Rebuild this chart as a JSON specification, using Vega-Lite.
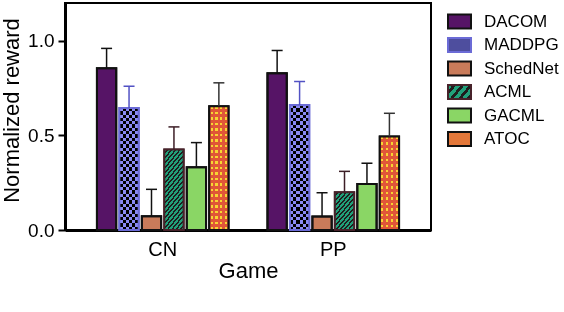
{
  "$schema": "https://vega.github.io/schema/vega-lite/v6.json",
  "autosize": {"type": "none"},
  "padding": {"left": 65, "top": 3, "right": 133, "bottom": 82},
  "width": 366,
  "height": 227,
  "background": "white",
  "params": [
    {"name": "acmlStops", "value": [
      {"offset":0,"color":"#21a07a"},{"offset":0.022917,"color":"#21a07a"},{"offset":0.022917,"color":"#1e1e1e"},{"offset":0.041667,"color":"#1e1e1e"},
      {"offset":0.041667,"color":"#21a07a"},{"offset":0.064583,"color":"#21a07a"},{"offset":0.064583,"color":"#1e1e1e"},{"offset":0.083333,"color":"#1e1e1e"},
      {"offset":0.083333,"color":"#21a07a"},{"offset":0.10625,"color":"#21a07a"},{"offset":0.10625,"color":"#1e1e1e"},{"offset":0.125,"color":"#1e1e1e"},
      {"offset":0.125,"color":"#21a07a"},{"offset":0.147917,"color":"#21a07a"},{"offset":0.147917,"color":"#1e1e1e"},{"offset":0.166667,"color":"#1e1e1e"},
      {"offset":0.166667,"color":"#21a07a"},{"offset":0.189583,"color":"#21a07a"},{"offset":0.189583,"color":"#1e1e1e"},{"offset":0.208333,"color":"#1e1e1e"},
      {"offset":0.208333,"color":"#21a07a"},{"offset":0.23125,"color":"#21a07a"},{"offset":0.23125,"color":"#1e1e1e"},{"offset":0.25,"color":"#1e1e1e"},
      {"offset":0.25,"color":"#21a07a"},{"offset":0.272917,"color":"#21a07a"},{"offset":0.272917,"color":"#1e1e1e"},{"offset":0.291667,"color":"#1e1e1e"},
      {"offset":0.291667,"color":"#21a07a"},{"offset":0.314583,"color":"#21a07a"},{"offset":0.314583,"color":"#1e1e1e"},{"offset":0.333333,"color":"#1e1e1e"},
      {"offset":0.333333,"color":"#21a07a"},{"offset":0.35625,"color":"#21a07a"},{"offset":0.35625,"color":"#1e1e1e"},{"offset":0.375,"color":"#1e1e1e"},
      {"offset":0.375,"color":"#21a07a"},{"offset":0.397917,"color":"#21a07a"},{"offset":0.397917,"color":"#1e1e1e"},{"offset":0.416667,"color":"#1e1e1e"},
      {"offset":0.416667,"color":"#21a07a"},{"offset":0.439583,"color":"#21a07a"},{"offset":0.439583,"color":"#1e1e1e"},{"offset":0.458333,"color":"#1e1e1e"},
      {"offset":0.458333,"color":"#21a07a"},{"offset":0.48125,"color":"#21a07a"},{"offset":0.48125,"color":"#1e1e1e"},{"offset":0.5,"color":"#1e1e1e"},
      {"offset":0.5,"color":"#21a07a"},{"offset":0.522917,"color":"#21a07a"},{"offset":0.522917,"color":"#1e1e1e"},{"offset":0.541667,"color":"#1e1e1e"},
      {"offset":0.541667,"color":"#21a07a"},{"offset":0.564583,"color":"#21a07a"},{"offset":0.564583,"color":"#1e1e1e"},{"offset":0.583333,"color":"#1e1e1e"},
      {"offset":0.583333,"color":"#21a07a"},{"offset":0.60625,"color":"#21a07a"},{"offset":0.60625,"color":"#1e1e1e"},{"offset":0.625,"color":"#1e1e1e"},
      {"offset":0.625,"color":"#21a07a"},{"offset":0.647917,"color":"#21a07a"},{"offset":0.647917,"color":"#1e1e1e"},{"offset":0.666667,"color":"#1e1e1e"},
      {"offset":0.666667,"color":"#21a07a"},{"offset":0.689583,"color":"#21a07a"},{"offset":0.689583,"color":"#1e1e1e"},{"offset":0.708333,"color":"#1e1e1e"},
      {"offset":0.708333,"color":"#21a07a"},{"offset":0.73125,"color":"#21a07a"},{"offset":0.73125,"color":"#1e1e1e"},{"offset":0.75,"color":"#1e1e1e"},
      {"offset":0.75,"color":"#21a07a"},{"offset":0.772917,"color":"#21a07a"},{"offset":0.772917,"color":"#1e1e1e"},{"offset":0.791667,"color":"#1e1e1e"},
      {"offset":0.791667,"color":"#21a07a"},{"offset":0.814583,"color":"#21a07a"},{"offset":0.814583,"color":"#1e1e1e"},{"offset":0.833333,"color":"#1e1e1e"},
      {"offset":0.833333,"color":"#21a07a"},{"offset":0.85625,"color":"#21a07a"},{"offset":0.85625,"color":"#1e1e1e"},{"offset":0.875,"color":"#1e1e1e"},
      {"offset":0.875,"color":"#21a07a"},{"offset":0.897917,"color":"#21a07a"},{"offset":0.897917,"color":"#1e1e1e"},{"offset":0.916667,"color":"#1e1e1e"},
      {"offset":0.916667,"color":"#21a07a"},{"offset":0.939583,"color":"#21a07a"},{"offset":0.939583,"color":"#1e1e1e"},{"offset":0.958333,"color":"#1e1e1e"},
      {"offset":0.958333,"color":"#21a07a"},{"offset":0.98125,"color":"#21a07a"},{"offset":0.98125,"color":"#1e1e1e"},{"offset":1,"color":"#1e1e1e"}
    ]},
    {"name": "maddRows", "value": [
      {"offset":0,"color":"#000000"},{"offset":0.025,"color":"#000000"},{"offset":0.025,"color":"#8a8af2"},{"offset":0.05,"color":"#8a8af2"},
      {"offset":0.05,"color":"#000000"},{"offset":0.075,"color":"#000000"},{"offset":0.075,"color":"#8a8af2"},{"offset":0.1,"color":"#8a8af2"},
      {"offset":0.1,"color":"#000000"},{"offset":0.125,"color":"#000000"},{"offset":0.125,"color":"#8a8af2"},{"offset":0.15,"color":"#8a8af2"},
      {"offset":0.15,"color":"#000000"},{"offset":0.175,"color":"#000000"},{"offset":0.175,"color":"#8a8af2"},{"offset":0.2,"color":"#8a8af2"},
      {"offset":0.2,"color":"#000000"},{"offset":0.225,"color":"#000000"},{"offset":0.225,"color":"#8a8af2"},{"offset":0.25,"color":"#8a8af2"},
      {"offset":0.25,"color":"#000000"},{"offset":0.275,"color":"#000000"},{"offset":0.275,"color":"#8a8af2"},{"offset":0.3,"color":"#8a8af2"},
      {"offset":0.3,"color":"#000000"},{"offset":0.325,"color":"#000000"},{"offset":0.325,"color":"#8a8af2"},{"offset":0.35,"color":"#8a8af2"},
      {"offset":0.35,"color":"#000000"},{"offset":0.375,"color":"#000000"},{"offset":0.375,"color":"#8a8af2"},{"offset":0.4,"color":"#8a8af2"},
      {"offset":0.4,"color":"#000000"},{"offset":0.425,"color":"#000000"},{"offset":0.425,"color":"#8a8af2"},{"offset":0.45,"color":"#8a8af2"},
      {"offset":0.45,"color":"#000000"},{"offset":0.475,"color":"#000000"},{"offset":0.475,"color":"#8a8af2"},{"offset":0.5,"color":"#8a8af2"},
      {"offset":0.5,"color":"#000000"},{"offset":0.525,"color":"#000000"},{"offset":0.525,"color":"#8a8af2"},{"offset":0.55,"color":"#8a8af2"},
      {"offset":0.55,"color":"#000000"},{"offset":0.575,"color":"#000000"},{"offset":0.575,"color":"#8a8af2"},{"offset":0.6,"color":"#8a8af2"},
      {"offset":0.6,"color":"#000000"},{"offset":0.625,"color":"#000000"},{"offset":0.625,"color":"#8a8af2"},{"offset":0.65,"color":"#8a8af2"},
      {"offset":0.65,"color":"#000000"},{"offset":0.675,"color":"#000000"},{"offset":0.675,"color":"#8a8af2"},{"offset":0.7,"color":"#8a8af2"},
      {"offset":0.7,"color":"#000000"},{"offset":0.725,"color":"#000000"},{"offset":0.725,"color":"#8a8af2"},{"offset":0.75,"color":"#8a8af2"},
      {"offset":0.75,"color":"#000000"},{"offset":0.775,"color":"#000000"},{"offset":0.775,"color":"#8a8af2"},{"offset":0.8,"color":"#8a8af2"},
      {"offset":0.8,"color":"#000000"},{"offset":0.825,"color":"#000000"},{"offset":0.825,"color":"#8a8af2"},{"offset":0.85,"color":"#8a8af2"},
      {"offset":0.85,"color":"#000000"},{"offset":0.875,"color":"#000000"},{"offset":0.875,"color":"#8a8af2"},{"offset":0.9,"color":"#8a8af2"},
      {"offset":0.9,"color":"#000000"},{"offset":0.925,"color":"#000000"},{"offset":0.925,"color":"#8a8af2"},{"offset":0.95,"color":"#8a8af2"},
      {"offset":0.95,"color":"#000000"},{"offset":0.975,"color":"#000000"},{"offset":0.975,"color":"#8a8af2"},{"offset":1,"color":"#8a8af2"}
    ]},
    {"name": "atocRows", "value": [
      {"offset":0,"color":"#ffffff"},{"offset":0.01875,"color":"#ffffff"},{"offset":0.01875,"color":"#e0563a"},{"offset":0.041667,"color":"#e0563a"},
      {"offset":0.041667,"color":"#ffffff"},{"offset":0.060417,"color":"#ffffff"},{"offset":0.060417,"color":"#e0563a"},{"offset":0.083333,"color":"#e0563a"},
      {"offset":0.083333,"color":"#ffffff"},{"offset":0.102083,"color":"#ffffff"},{"offset":0.102083,"color":"#e0563a"},{"offset":0.125,"color":"#e0563a"},
      {"offset":0.125,"color":"#ffffff"},{"offset":0.14375,"color":"#ffffff"},{"offset":0.14375,"color":"#e0563a"},{"offset":0.166667,"color":"#e0563a"},
      {"offset":0.166667,"color":"#ffffff"},{"offset":0.185417,"color":"#ffffff"},{"offset":0.185417,"color":"#e0563a"},{"offset":0.208333,"color":"#e0563a"},
      {"offset":0.208333,"color":"#ffffff"},{"offset":0.227083,"color":"#ffffff"},{"offset":0.227083,"color":"#e0563a"},{"offset":0.25,"color":"#e0563a"},
      {"offset":0.25,"color":"#ffffff"},{"offset":0.26875,"color":"#ffffff"},{"offset":0.26875,"color":"#e0563a"},{"offset":0.291667,"color":"#e0563a"},
      {"offset":0.291667,"color":"#ffffff"},{"offset":0.310417,"color":"#ffffff"},{"offset":0.310417,"color":"#e0563a"},{"offset":0.333333,"color":"#e0563a"},
      {"offset":0.333333,"color":"#ffffff"},{"offset":0.352083,"color":"#ffffff"},{"offset":0.352083,"color":"#e0563a"},{"offset":0.375,"color":"#e0563a"},
      {"offset":0.375,"color":"#ffffff"},{"offset":0.39375,"color":"#ffffff"},{"offset":0.39375,"color":"#e0563a"},{"offset":0.416667,"color":"#e0563a"},
      {"offset":0.416667,"color":"#ffffff"},{"offset":0.435417,"color":"#ffffff"},{"offset":0.435417,"color":"#e0563a"},{"offset":0.458333,"color":"#e0563a"},
      {"offset":0.458333,"color":"#ffffff"},{"offset":0.477083,"color":"#ffffff"},{"offset":0.477083,"color":"#e0563a"},{"offset":0.5,"color":"#e0563a"},
      {"offset":0.5,"color":"#ffffff"},{"offset":0.51875,"color":"#ffffff"},{"offset":0.51875,"color":"#e0563a"},{"offset":0.541667,"color":"#e0563a"},
      {"offset":0.541667,"color":"#ffffff"},{"offset":0.560417,"color":"#ffffff"},{"offset":0.560417,"color":"#e0563a"},{"offset":0.583333,"color":"#e0563a"},
      {"offset":0.583333,"color":"#ffffff"},{"offset":0.602083,"color":"#ffffff"},{"offset":0.602083,"color":"#e0563a"},{"offset":0.625,"color":"#e0563a"},
      {"offset":0.625,"color":"#ffffff"},{"offset":0.64375,"color":"#ffffff"},{"offset":0.64375,"color":"#e0563a"},{"offset":0.666667,"color":"#e0563a"},
      {"offset":0.666667,"color":"#ffffff"},{"offset":0.685417,"color":"#ffffff"},{"offset":0.685417,"color":"#e0563a"},{"offset":0.708333,"color":"#e0563a"},
      {"offset":0.708333,"color":"#ffffff"},{"offset":0.727083,"color":"#ffffff"},{"offset":0.727083,"color":"#e0563a"},{"offset":0.75,"color":"#e0563a"},
      {"offset":0.75,"color":"#ffffff"},{"offset":0.76875,"color":"#ffffff"},{"offset":0.76875,"color":"#e0563a"},{"offset":0.791667,"color":"#e0563a"},
      {"offset":0.791667,"color":"#ffffff"},{"offset":0.810417,"color":"#ffffff"},{"offset":0.810417,"color":"#e0563a"},{"offset":0.833333,"color":"#e0563a"},
      {"offset":0.833333,"color":"#ffffff"},{"offset":0.852083,"color":"#ffffff"},{"offset":0.852083,"color":"#e0563a"},{"offset":0.875,"color":"#e0563a"},
      {"offset":0.875,"color":"#ffffff"},{"offset":0.89375,"color":"#ffffff"},{"offset":0.89375,"color":"#e0563a"},{"offset":0.916667,"color":"#e0563a"},
      {"offset":0.916667,"color":"#ffffff"},{"offset":0.935417,"color":"#ffffff"},{"offset":0.935417,"color":"#e0563a"},{"offset":0.958333,"color":"#e0563a"},
      {"offset":0.958333,"color":"#ffffff"},{"offset":0.977083,"color":"#ffffff"},{"offset":0.977083,"color":"#e0563a"},{"offset":1,"color":"#e0563a"}
    ]}
  ],
  "data": {"values": [
    {"game":"CN","method":"DACOM","value":0.855,"upper":0.96},
    {"game":"CN","method":"MADDPG","value":0.645,"upper":0.76},
    {"game":"CN","method":"SchedNet","value":0.073,"upper":0.215},
    {"game":"CN","method":"ACML","value":0.425,"upper":0.545},
    {"game":"CN","method":"GACML","value":0.332,"upper":0.462},
    {"game":"CN","method":"ATOC","value":0.654,"upper":0.778},
    {"game":"PP","method":"DACOM","value":0.829,"upper":0.949},
    {"game":"PP","method":"MADDPG","value":0.661,"upper":0.785},
    {"game":"PP","method":"SchedNet","value":0.072,"upper":0.197},
    {"game":"PP","method":"ACML","value":0.2,"upper":0.31},
    {"game":"PP","method":"GACML","value":0.243,"upper":0.353},
    {"game":"PP","method":"ATOC","value":0.494,"upper":0.617}
  ]},
  "encoding": {
    "x": {"field":"game","type":"nominal","title":"Game",
      "scale":{"domain":["CN","PP"],"paddingInner":0.21,"paddingOuter":0.178},
      "axis":{"labelAngle":0,"ticks":false,"labelFontSize":20,"labelPadding":25,"labelBaseline":"alphabetic","titleFontSize":22,"titleY":47,"titleBaseline":"alphabetic","domainWidth":3}},
    "xOffset": {"field":"method","type":"nominal",
      "scale":{"domain":["DACOM","MADDPG","SchedNet","ACML","GACML","ATOC"],"paddingInner":0.14,"paddingOuter":0.07}}
  },
  "layer": [
    {
      "mark": {"type":"bar","strokeWidth":2},
      "encoding": {
        "y": {"field":"value","type":"quantitative","title":"Normalized reward",
          "scale":{"domain":[0,1.2],"nice":false},
          "axis":{"values":[0,0.5,1],"format":".1f","tickSize":7,"tickWidth":2,"labelFontSize":19,"labelPadding":4,"titleFontSize":22,"titleX":-47,"titleY":107,"titleBaseline":"alphabetic","titleAngle":-90,"domainWidth":3}},
        "fill": {"field":"method","type":"nominal",
          "scale":{"domain":["DACOM","MADDPG","SchedNet","ACML","GACML","ATOC"],"range":["#561466","#4e4e9e","#c97b5a",{"expr":"{gradient: 'linear', x1: 0, y1: 0, x2: 6.956, y2: 3.478, stops: acmlStops}"},"#8ad665","#e4783a"]},
          "legend":{"orient":"none","legendX":383,"legendY":7,"title":null,"symbolType":"M-1.095,-0.657H1.095V0.657H-1.095Z","symbolSize":441,"symbolStrokeWidth":2,"symbolOpacity":1,"labelFontSize":17,"labelOffset":13,"rowPadding":0.5,"padding":0,"labelColor":"#000"}},
        "stroke": {"field":"method","type":"nominal",
          "scale":{"domain":["DACOM","MADDPG","SchedNet","ACML","GACML","ATOC"],"range":["#111111","#6b6bd6","#111111","#47222a","#111111","#111111"]},
          "legend":{"orient":"none","legendX":383,"legendY":7,"title":null,"symbolType":"M-1.095,-0.657H1.095V0.657H-1.095Z","symbolSize":441,"symbolStrokeWidth":2,"symbolOpacity":1,"labelFontSize":17,"labelOffset":13,"rowPadding":0.5,"padding":0,"labelColor":"#000"}}
      }
    },
    {
      "transform": [{"filter":"datum.method === 'MADDPG'"}],
      "mark": {"type":"bar","strokeWidth":0},
      "encoding": {
        "y": {"field":"value","type":"quantitative","title":"Normalized reward"},
        "fill": {"value": {"gradient":"linear","x1":0,"y1":0,"x2":1,"y2":0,"stops":[
          {"offset":0,"color":"#8a8af2"},{"offset":0.1667,"color":"#8a8af2"},{"offset":0.1667,"color":"#000000"},{"offset":0.3333,"color":"#000000"},
          {"offset":0.3333,"color":"#8a8af2"},{"offset":0.5,"color":"#8a8af2"},{"offset":0.5,"color":"#000000"},{"offset":0.6667,"color":"#000000"},
          {"offset":0.6667,"color":"#8a8af2"},{"offset":0.8333,"color":"#8a8af2"},{"offset":0.8333,"color":"#000000"},{"offset":1,"color":"#000000"}]}}
      }
    },
    {
      "transform": [{"filter":"datum.method === 'MADDPG'"}],
      "mark": {"type":"bar","strokeWidth":0,"blend":"difference"},
      "encoding": {
        "y": {"field":"value","type":"quantitative","title":"Normalized reward"},
        "fill": {"value": {"expr": "{gradient: 'linear', x1: 0, y1: 0, x2: 0, y2: 132/max(1, scale('y', 0) - scale('y', datum.value)), stops: maddRows}"}}
      }
    },
    {
      "transform": [{"filter":"datum.method === 'ATOC'"}],
      "mark": {"type":"bar","strokeWidth":0},
      "encoding": {
        "y": {"field":"value","type":"quantitative","title":"Normalized reward"},
        "fill": {"value": {"gradient":"linear","x1":0,"y1":0,"x2":1,"y2":0,"stops":[
          {"offset":0,"color":"#e0563a"},{"offset":0.06875,"color":"#e0563a"},{"offset":0.06875,"color":"#f7d633"},{"offset":0.18125,"color":"#f7d633"},
          {"offset":0.18125,"color":"#e0563a"},{"offset":0.31875,"color":"#e0563a"},{"offset":0.31875,"color":"#f7d633"},{"offset":0.43125,"color":"#f7d633"},
          {"offset":0.43125,"color":"#e0563a"},{"offset":0.56875,"color":"#e0563a"},{"offset":0.56875,"color":"#f7d633"},{"offset":0.68125,"color":"#f7d633"},
          {"offset":0.68125,"color":"#e0563a"},{"offset":0.81875,"color":"#e0563a"},{"offset":0.81875,"color":"#f7d633"},{"offset":0.93125,"color":"#f7d633"},
          {"offset":0.93125,"color":"#e0563a"},{"offset":1,"color":"#e0563a"}]}}
      }
    },
    {
      "transform": [{"filter":"datum.method === 'ATOC'"}],
      "mark": {"type":"bar","strokeWidth":0,"blend":"darken"},
      "encoding": {
        "y": {"field":"value","type":"quantitative","title":"Normalized reward"},
        "fill": {"value": {"expr": "{gradient: 'linear', x1: 0, y1: 0, x2: 0, y2: 132/max(1, scale('y', 0) - scale('y', datum.value)), stops: atocRows}"}}
      }
    },
    {
      "transform": [{"filter":"datum.method === 'ACML'"}],
      "mark": {"type":"bar","strokeWidth":0},
      "encoding": {
        "y": {"field":"value","type":"quantitative","title":"Normalized reward"},
        "fill": {"value": {"expr": "{gradient: 'linear', x1: 0, y1: 0, x2: 144*bandwidth('xOffset')/(pow(1.2*bandwidth('xOffset'), 2) + pow(scale('y', 0) - scale('y', datum.value), 2)), y2: 120*(scale('y', 0) - scale('y', datum.value))/(pow(1.2*bandwidth('xOffset'), 2) + pow(scale('y', 0) - scale('y', datum.value), 2)), stops: acmlStops}"}}
      }
    },
    {
      "mark": {"type":"bar","filled":false,"strokeWidth":2},
      "encoding": {
        "y": {"field":"value","type":"quantitative","title":"Normalized reward"},
        "stroke": {"field":"method","type":"nominal","legend":null}
      }
    },
    {
      "mark": {"type":"rule","strokeWidth":1.5},
      "encoding": {
        "y": {"field":"value","type":"quantitative","title":"Normalized reward"},
        "y2": {"field":"upper"},
        "color": {"field":"method","type":"nominal","legend":null,
          "scale":{"domain":["DACOM","MADDPG","SchedNet","ACML","GACML","ATOC"],"range":["#111111","#5252c4","#111111","#3c1e26","#111111","#333333"]}}
      }
    },
    {
      "mark": {"type":"tick","size":11,"thickness":1.5},
      "encoding": {
        "y": {"field":"upper","type":"quantitative","title":"Normalized reward"},
        "color": {"field":"method","type":"nominal","legend":null}
      }
    }
  ],
  "config": {
    "font": "Liberation Sans",
    "view": {"stroke": "#000000", "strokeWidth": 2},
    "axis": {"grid": false, "domainColor": "#000000", "tickColor": "#000000", "labelColor": "#000000", "titleColor": "#000000", "titleFontWeight": "normal"},
    "tick": {"opacity": 1},
    "rule": {"opacity": 1}
  }
}
